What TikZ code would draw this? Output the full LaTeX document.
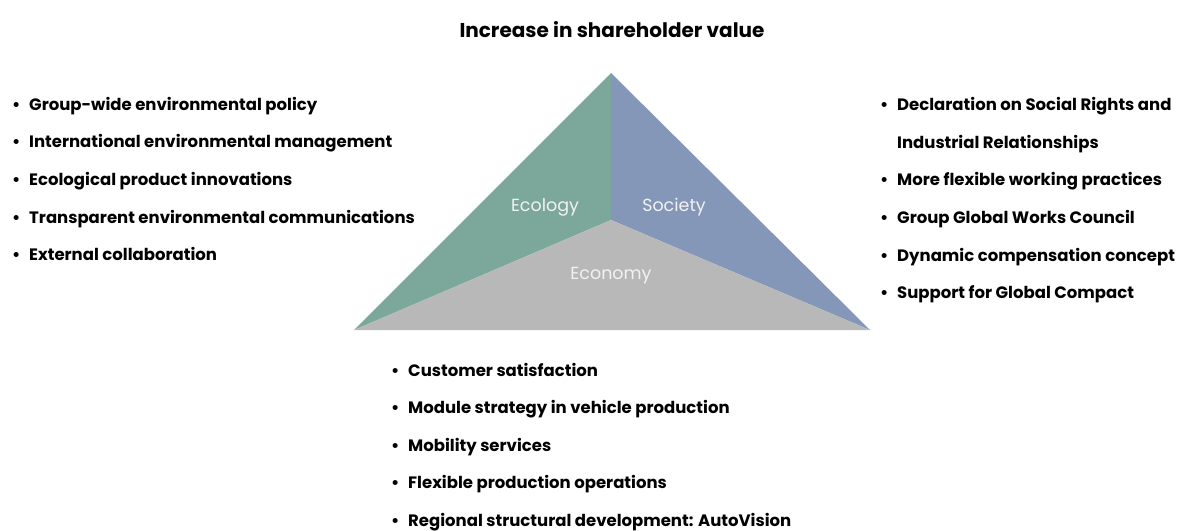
\documentclass[tikz,border=0pt]{standalone}
\usepackage{fontspec}
\setmainfont{Poppins}
\usetikzlibrary{positioning}
\definecolor{ecogreen}{HTML}{7BA89A}
\definecolor{socblue}{HTML}{8497B8}
\definecolor{econgray}{HTML}{B8B8B8}

\begin{document}
\begin{tikzpicture}[x=1pt,y=-1pt,
        item/.style={anchor=base west,inner sep=0pt,font=\fontsize{16.5}{19}\selectfont\bfseries,
          execute at begin node={\makebox[17pt][l]{\textbullet}}},
        cont/.style={anchor=base west,inner sep=0pt,font=\fontsize{16.5}{19}\selectfont\bfseries},
        pillar/.style={text=white!95!black,inner sep=0pt,font=\fontsize{17.5}{20}\selectfont},
        head/.style={anchor=base,inner sep=0pt,font=\fontsize{20}{24}\selectfont\bfseries}
      ]
      \useasboundingbox (0,0) rectangle (1196,530);

      \node[head] (title) at (612,37) {Increase in shareholder value};

      % triangle corners and centre
      \coordinate (apex) at (611,73);
      \coordinate (bl) at (354,330);
      \coordinate (br) at (870,330);
      \coordinate (ctr) at (611,220);

      \fill[ecogreen] (apex) -- (ctr) -- (bl) -- cycle;
      \fill[socblue] (apex) -- (br) -- (ctr) -- cycle;
      \fill[econgray] (bl) -- (ctr) -- (br) -- cycle;

      \node[pillar] (ecol) at (545,207) {Ecology};
      \node[pillar] (soc) at (674,207) {Society};
      \node[pillar] (econ) at (611,276) {Economy};

      % ecology list
      \foreach \txt [count=\i] in {Group-wide environmental policy,
          International environmental management,
          Ecological product innovations,
          Transparent environmental communications,
          External collaboration}
        \node[item] (ecol\i) at (12,{110+37.7*(\i-1)}) {\txt};

      % society list
      \node[item] (soc1) at (880,110) {Declaration on Social Rights and};
      \node[cont] (soc1b) at (897,148) {Industrial Relationships};
      \foreach \txt [count=\i from 2] in {More flexible working practices,
          Group Global Works Council,
          Dynamic compensation concept,
          Support for Global Compact}
        \node[item] (soc\i) at (880,{148+37.7*(\i-1)}) {\txt};

      % economy list
      \foreach \txt [count=\i] in {Customer satisfaction,
          Module strategy in vehicle production,
          Mobility services,
          Flexible production operations,
          Regional structural development: AutoVision}
        \node[item] (econ\i) at (391,{376+37.5*(\i-1)}) {\txt};
    \end{tikzpicture}
\end{document}
